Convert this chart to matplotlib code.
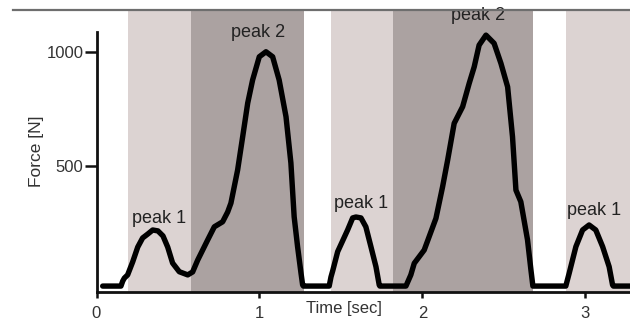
import matplotlib
matplotlib.use("Agg")
import matplotlib.pyplot as plt
from matplotlib.lines import Line2D

# Force trace (time in s, force in N)
time_s = [0.038, 0.150, 0.161, 0.171, 0.191, 0.222, 0.253, 0.283, 0.314, 0.345,
          0.377, 0.408, 0.437, 0.467, 0.508, 0.560, 0.590, 0.621, 0.682, 0.723,
          0.774, 0.805, 0.825, 0.866, 0.897, 0.928, 0.958, 0.999, 1.040, 1.081,
          1.121, 1.163, 1.193, 1.213, 1.234, 1.255, 1.265, 1.270,
          1.428, 1.439, 1.450, 1.480, 1.541, 1.572, 1.592, 1.623, 1.653, 1.684,
          1.715, 1.735, 1.739,
          1.899, 1.929, 1.950, 2.011, 2.083, 2.124, 2.155, 2.195, 2.247, 2.287,
          2.318, 2.348, 2.390, 2.440, 2.482, 2.523, 2.553, 2.574, 2.604, 2.645,
          2.666, 2.678,
          2.880, 2.901, 2.942, 2.983, 3.023, 3.064, 3.106, 3.146, 3.167, 3.172,
          3.280]
force_n = [-28, -28, -6, 7, 21, 78, 143, 183, 200, 218,
           214, 192, 143, 73, 35, 21, 34, 86, 174, 232,
           254, 297, 336, 481, 627, 775, 876, 978, 1000, 978,
           876, 715, 512, 276, 145, 29, -23, -28,
           -28, 12, 40, 123, 218, 271, 275, 271, 232, 145,
           57, -23, -28,
           -28, 21, 72, 130, 269, 408, 525, 686, 759, 861,
           934, 1029, 1073, 1037, 949, 846, 627, 393, 342, 175,
           43, -28,
           -28, 29, 145, 218, 240, 218, 145, 57, -23, -28,
           -28]

# Phase bands (start, end, shade)
band_start = [0.195, 0.580, 1.440, 1.818, 2.880]
band_end = [0.580, 1.273, 1.818, 2.680, 3.300]
band_kind = ["light", "dark", "light", "dark", "light"]
band_colors = {"light": "#dcd3d2", "dark": "#aba2a1"}

# Peak labels
label_text = ["peak 1", "peak 2", "peak 1", "peak 2", "peak 1"]
label_t = [0.385, 0.990, 1.625, 2.340, 3.055]
label_f = [270, 1085, 335, 1160, 305]

x_ticks = [0, 1, 2, 3]
y_ticks = [500, 1000]

plt.rcParams['font.family'] = ['Liberation Sans', 'DejaVu Sans']

fig = plt.figure(figsize=(6.3, 3.2), dpi=100)
ax = fig.add_axes([96.5 / 630, 28 / 320, 1 - 96.5 / 630, 281.5 / 320])
ax.set_xlim(0, 3.274)
ax.set_ylim(-54, 1181)

for s, e, k in zip(band_start, band_end, band_kind):
    ax.axvspan(s, e, color=band_colors[k], lw=0, zorder=0)

ax.plot(time_s, force_n, color="black", lw=3.9, solid_joinstyle="round",
        solid_capstyle="round", zorder=3, clip_on=False)

for txt, t, f in zip(label_text, label_t, label_f):
    ax.text(t, f, txt, ha="center", va="center", fontsize=13, color="#222222")

for side in ["top", "right"]:
    ax.spines[side].set_visible(False)
for side in ["left", "bottom"]:
    ax.spines[side].set_linewidth(2.0)
    ax.spines[side].set_color("#111111")
ax.spines["left"].set_bounds(-54, 1088)

ax.set_xticks(x_ticks)
ax.set_yticks(y_ticks)
ax.tick_params(axis="y", direction="out", length=8.5, width=1.8, pad=1,
               labelsize=12, colors="#111111", labelcolor="#333333")
ax.tick_params(axis="x", direction="out", length=4, width=1.8, pad=6,
               labelsize=12, colors="#111111", labelcolor="#333333")

ax.set_ylabel("Force [N]", fontsize=12.5, color="#333333")
ax.yaxis.set_label_coords(-0.098, 0.5)
ax.text(1.52, -127, "Time [sec]", ha="center", va="center", fontsize=12,
        color="#333333")

fig.add_artist(Line2D([13 / 630, 1], [310 / 320, 310 / 320], color="#6e6e6e",
                      lw=1.6, transform=fig.transFigure))

fig.savefig("out.png", dpi=100)
